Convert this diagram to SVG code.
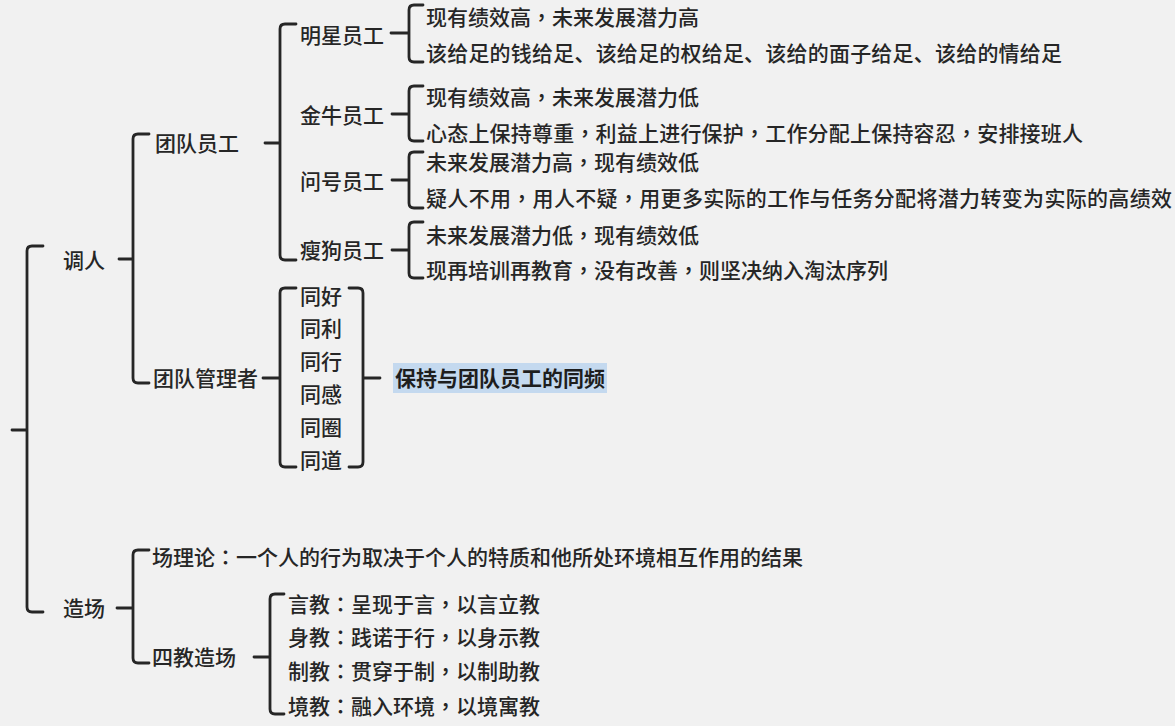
<svg xmlns="http://www.w3.org/2000/svg" width="1175" height="726" viewBox="0 0 1175 726">
<style>
text{font-family:"Noto Sans CJK SC","Noto Sans",sans-serif;font-size:21px;font-weight:500;fill:#262626}
.p{font-family:"Noto Sans CJK TC","Noto Sans CJK SC",sans-serif}
.b{font-weight:bold;fill:#1e1e1e}
.br{fill:none;stroke:#262626;stroke-width:2.8;stroke-linecap:round;stroke-linejoin:round}
</style>
<rect width="1175" height="726" fill="#f1f1f1"/>
<g id="connectors" class="br">
<path d="M43,246 H32 Q27,246 27,251 V607 Q27,612 32,612 H43 M12,430 H27"/>
<path d="M149,134 H138 Q133,134 133,139 V378 Q133,383 138,383 H149 M119,259 H133"/>
<path d="M296,24 H285 Q280,24 280,29 V255 Q280,260 285,260 H296 M265,143 H280"/>
<path d="M423,5 H414 Q409,5 409,10 V57 Q409,62 414,62 H423 M391,33 H409"/>
<path d="M423,86 H414 Q409,86 409,91 V136 Q409,141 414,141 H423 M392,114 H409"/>
<path d="M423,152 H414 Q409,152 409,157 V203 Q409,208 414,208 H423 M392,180 H409"/>
<path d="M423,222 H414 Q409,222 409,227 V273 Q409,278 414,278 H423 M392,250 H409"/>
<path d="M296,288 H285 Q280,288 280,293 V462 Q280,467 285,467 H296 M263,378 H280"/>
<path d="M349,288 H358 Q363,288 363,293 V462 Q363,467 358,467 H349 M363,378 H380"/>
<path d="M149,550 H138 Q133,550 133,555 V658 Q133,663 138,663 H149 M117,608 H133"/>
<path d="M284,594 H275 Q270,594 270,599 V709 Q270,714 275,714 H284 M254,657 H270"/>
</g>
<g id="n-diaoren"><text x="63" y="268">调人</text></g>
<g id="n-zaochang"><text x="63" y="616">造场</text></g>
<g id="n-tuanduiyuangong"><text x="155" y="151">团队员工</text></g>
<g id="n-guanlizhe"><text x="153" y="386">团队管理者</text></g>
<g id="n-mingxing"><text x="300" y="43">明星员工</text></g>
<g id="n-jinniu"><text x="300" y="123">金牛员工</text></g>
<g id="n-wenhao"><text x="300" y="189">问号员工</text></g>
<g id="n-shougou"><text x="300" y="258">瘦狗员工</text></g>
<g id="n-mingxing-1"><text x="426" y="25">现有绩效高<tspan class="p">，</tspan>未来发展潜力高</text></g>
<g id="n-mingxing-2"><text x="426" y="61" textLength="636">该给足的钱给足、该给足的权给足、该给的面子给足、该给的情给足</text></g>
<g id="n-jinniu-1"><text x="426" y="105">现有绩效高<tspan class="p">，</tspan>未来发展潜力低</text></g>
<g id="n-jinniu-2"><text x="426" y="141" textLength="657">心态上保持尊重<tspan class="p">，</tspan>利益上进行保护<tspan class="p">，</tspan>工作分配上保持容忍<tspan class="p">，</tspan>安排接班人</text></g>
<g id="n-wenhao-1"><text x="426" y="170">未来发展潜力高<tspan class="p">，</tspan>现有绩效低</text></g>
<g id="n-wenhao-2"><text x="426" y="206" textLength="746">疑人不用<tspan class="p">，</tspan>用人不疑<tspan class="p">，</tspan>用更多实际的工作与任务分配将潜力转变为实际的高绩效</text></g>
<g id="n-shougou-1"><text x="426" y="243">未来发展潜力低<tspan class="p">，</tspan>现有绩效低</text></g>
<g id="n-shougou-2"><text x="426" y="278">现再培训再教育<tspan class="p">，</tspan>没有改善<tspan class="p">，</tspan>则坚决纳入淘汰序列</text></g>
<g id="n-tong"><text x="300" y="304">同好</text><text x="300" y="336">同利</text><text x="300" y="369">同行</text><text x="300" y="402">同感</text><text x="300" y="435">同圈</text><text x="300" y="468">同道</text></g>
<g id="n-tongpin"><rect x="393" y="363" width="214" height="30" fill="#c4d9ef"/><text class="b" x="395" y="386">保持与团队员工的同频</text></g>
<g id="n-changlilun"><text x="152" y="565">场理论<tspan class="p">：</tspan>一个人的行为取决于个人的特质和他所处环境相互作用的结果</text></g>
<g id="n-sijiao"><text x="152" y="665">四教造场</text></g>
<g id="n-yanjiao"><text x="288" y="612">言教<tspan class="p">：</tspan>呈现于言<tspan class="p">，</tspan>以言立教</text></g>
<g id="n-shenjiao"><text x="288" y="645">身教<tspan class="p">：</tspan>践诺于行<tspan class="p">，</tspan>以身示教</text></g>
<g id="n-zhijiao"><text x="288" y="679">制教<tspan class="p">：</tspan>贯穿于制<tspan class="p">，</tspan>以制助教</text></g>
<g id="n-jingjiao"><text x="288" y="714">境教<tspan class="p">：</tspan>融入环境<tspan class="p">，</tspan>以境寓教</text></g>
</svg>
